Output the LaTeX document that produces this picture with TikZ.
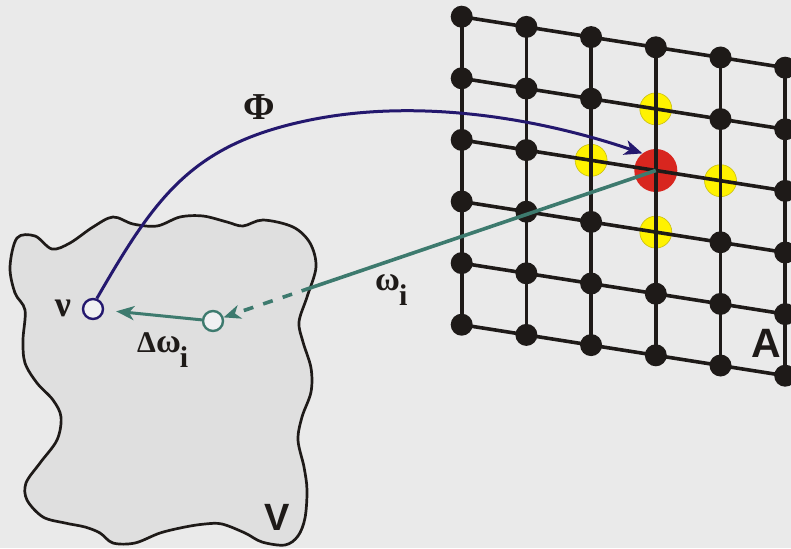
\documentclass[tikz,border=0pt]{standalone}
\usepackage{fontspec}
\setmainfont{Liberation Sans}
\newfontfamily\grk{Liberation Serif}
\usetikzlibrary{arrows.meta,calc}
\definecolor{bg}{HTML}{EAEAEA}
\definecolor{blobfill}{HTML}{DFDFDF}
\definecolor{ink}{HTML}{1E1A18}
\definecolor{phiblue}{HTML}{24186E}
\definecolor{tealc}{HTML}{3D7A6E}
\definecolor{redn}{HTML}{D8261F}
\definecolor{yel}{HTML}{FFF200}
\definecolor{yeledge}{HTML}{C8BE10}
\definecolor{circfill}{HTML}{F0F0F2}
\tikzset{
  bdot/.style={circle,fill=ink,minimum size=22pt,inner sep=0pt},
  ydot/.style={circle,fill=yel,draw=yeledge,line width=0.6pt,minimum size=32pt,inner sep=0pt},
  rdot/.style={circle,fill=redn,minimum size=43pt,inner sep=0pt},
  gridline/.style={draw=ink,line width=3.6pt},
  ring/.style={circle,minimum size=20pt,inner sep=0pt,line width=2.4pt,fill=circfill},
  lbl/.style={text=ink,inner sep=0pt},
  phiarrow/.style={draw=phiblue,line width=3pt,-{Stealth[length=18pt,width=15pt,inset=5pt]}},
  tealline/.style={draw=tealc,line width=3.6pt},
  tealdash/.style={draw=tealc,line width=3.6pt,dash pattern=on 10pt off 10.5pt,dash phase=10.5pt,-{Stealth[length=17pt,width=14pt,inset=5pt]}},
  greenarrow/.style={draw=tealc,line width=3pt,shorten >=12pt,-{Stealth[length=18pt,width=14pt,inset=5pt]}}
}
\begin{document}
\begin{tikzpicture}[x=1pt,y=-1pt]
\useasboundingbox (0,0) rectangle (791,548);
\clip (0,0) rectangle (791,548);
\fill[bg] (0,0) rectangle (791,548);
% region V
\draw[draw=ink,fill=blobfill,line width=2.7pt] plot[smooth cycle,tension=0.55] coordinates {
(17,238) (35,236) (52,249) (70,243) (93,227) (113,217) (133,224) (157,226) (180,217) (203,216)
(227,222) (243,226) (263,220) (293,227) (310,243) (316,267) (307,297) (299,322) (303,342) (311,368)
(311,392) (302,417) (298,440) (304,467) (307,490) (305,518) (298,536) (285,545) (262,542) (245,533)
(222,524) (205,524) (185,527) (160,533) (135,543) (113,543) (100,533) (85,527) (65,523) (43,517)
(27,500) (26,483) (40,463) (57,440) (61,417) (53,400) (37,383) (25,363) (23,340) (25,310) (15,293) (10,267)};
% grid coordinates
\foreach \i in {0,...,5}{\foreach \j in {0,...,5}{
  \coordinate (p\i\j) at ({461.7+64.7*\i},{16.7+10.2*\i+61.6*\j});
}}
% coloured nodes
\node[ydot] (y1) at (p31) {};
\node[ydot] (y2) at (p22) {};
\node[ydot] (y3) at (p42) {};
\node[ydot] (y4) at (p33) {};
\node[rdot] (red) at (p32) {};
% grid lines
\foreach \j in {0,...,5}{\draw[gridline] (p0\j) \foreach \i in {1,...,5}{ -- (p\i\j)};}
\foreach \i in {0,...,5}{\draw[gridline] (p\i0) -- (p\i5);}
% black nodes
\foreach \i in {0,...,5}{\foreach \j in {0,...,5}{
  \pgfmathtruncatemacro\sp{((\i==3)&&(\j>=1)&&(\j<=3))||((\j==2)&&((\i==2)||(\i==4))) ? 1 : 0}
  \ifnum\sp=0 \node[bdot] (g\i\j) at (p\i\j) {};\fi
}}
% input space points
\node[ring,draw=phiblue] (nu) at (93,309) {};
\node[ring,draw=tealc] (gc) at (213,321) {};
% connectors
\coordinate (tm) at ($(red.center)!0.8!(gc.center)$);
\draw[tealline] (red.center) -- (tm);
\draw[tealdash] (tm) -- (gc);
\draw[greenarrow] (gc) -- (nu);
\draw[phiarrow] (nu.70) .. controls (156,196) and (192,144) .. (310,120) .. controls (418,98) and (538,118) .. (red.128);
% labels
\node[lbl,font=\grk\bfseries\fontsize{38}{38}\selectfont] (phi) at (259,107) {Φ};
\node[lbl,font=\grk\bfseries\fontsize{36}{36}\selectfont] (nul) at (63,308) {ν};
\node[lbl,font=\grk\bfseries\fontsize{34}{34}\selectfont,anchor=base west] (wi) at (375,290) {ω\kern-1pt\raisebox{-15pt}{\fontsize{30}{30}\selectfont i}};
\node[lbl,font=\grk\bfseries\fontsize{34}{34}\selectfont,anchor=base west] (dwi) at (137,352) {{\fontsize{30}{30}\selectfont Δ}ω\kern-1pt\raisebox{-15pt}{\fontsize{30}{30}\selectfont i}};
\node[lbl,font=\bfseries\fontsize{38}{38}\selectfont] (vl) at (277,517) {V};
\node[lbl,font=\bfseries\fontsize{41}{41}\selectfont] (al) at (766,343) {A};
\end{tikzpicture}
\end{document}
